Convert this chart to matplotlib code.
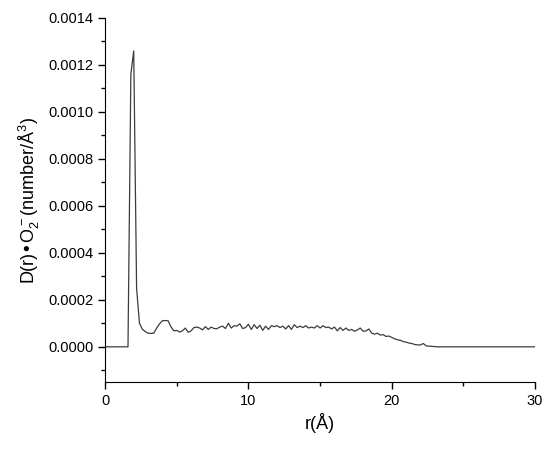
import matplotlib
matplotlib.use("Agg")
import matplotlib.pyplot as plt
from matplotlib.ticker import MultipleLocator, FormatStrFormatter

plt.rcParams['font.family'] = ['Liberation Sans', 'DejaVu Sans']
plt.rcParams['mathtext.default'] = 'regular'

# r values (A)
r = [0.0, 1.6, 1.8, 2.0, 2.2, 2.4, 2.6, 2.8, 3.0, 3.2, 3.4, 3.6, 3.8,
     4.0, 4.2, 4.4, 4.6, 4.8, 5.0, 5.2, 5.4, 5.6, 5.8, 6.0, 6.2, 6.4, 6.6,
     6.8, 7.0, 7.2, 7.4, 7.6, 7.8, 8.0, 8.2, 8.4, 8.6, 8.8, 9.0, 9.2, 9.4,
     9.6, 9.8, 10.0, 10.2, 10.4, 10.6, 10.8, 11.0, 11.2, 11.4, 11.6, 11.8,
     12.0, 12.2, 12.4, 12.6, 12.8, 13.0, 13.2, 13.4, 13.6, 13.8, 14.0, 14.2,
     14.4, 14.6, 14.8, 15.0, 15.2, 15.4, 15.6, 15.8, 16.0, 16.2, 16.4, 16.6,
     16.8, 17.0, 17.2, 17.4, 17.6, 17.8, 18.0, 18.2, 18.4, 18.6, 18.8, 19.0,
     19.2, 19.4, 19.6, 19.8, 20.0, 20.2, 20.4, 20.6, 20.8, 21.0, 21.2, 21.4,
     21.6, 21.8, 22.0, 22.2, 22.4, 22.6, 22.8, 23.0, 23.2, 23.4, 23.6, 30.0]

d = [0.0, 0.0, 0.00116, 0.00126, 0.00025, 0.00010, 0.000075, 0.000065,
     0.000058, 0.000057, 0.000058, 0.000080, 0.000098,
     0.000111, 0.000112, 0.000111, 0.000085, 0.000068, 0.000070, 0.000063,
     0.000068, 0.000080, 0.000062, 0.000068, 0.000082, 0.000084, 0.000080,
     0.000072, 0.000086, 0.000074, 0.000084, 0.000078, 0.000077, 0.000084,
     0.000088, 0.000078, 0.000100, 0.000080, 0.000090, 0.000088, 0.000098,
     0.000078, 0.000082, 0.000096, 0.000074, 0.000094, 0.000078, 0.000092,
     0.000070, 0.000088, 0.000074, 0.000090, 0.000086, 0.000090, 0.000082,
     0.000088, 0.000076, 0.000090, 0.000074, 0.000094, 0.000082, 0.000088,
     0.000082, 0.000090, 0.000080, 0.000084, 0.000080, 0.000090, 0.000080,
     0.000090, 0.000082, 0.000084, 0.000076, 0.000084, 0.000068, 0.000082,
     0.000070, 0.000080, 0.000070, 0.000074, 0.000066, 0.000072, 0.000080,
     0.000066, 0.000068, 0.000076, 0.000058, 0.000054, 0.000058, 0.000050,
     0.000052, 0.000044, 0.000046, 0.000040, 0.000034, 0.000030, 0.000028,
     0.000022, 0.000020, 0.000016, 0.000014, 0.000010, 0.000008, 0.000008,
     0.000014, 0.000004, 0.000003, 0.000002, 0.000001, 0.0, 0.0, 0.0, 0.0]

fig = plt.figure(figsize=(5.5, 4.5), dpi=100)
ax = fig.add_axes([0.191, 0.151, 0.782, 0.809])
ax.plot(r, d, color='#3c3c3c', lw=0.9)

ax.set_xlim(0, 30)
ax.set_ylim(-0.00015, 0.0014)
ax.spines['top'].set_visible(False)
ax.spines['right'].set_visible(False)
ax.xaxis.set_major_locator(MultipleLocator(10))
ax.xaxis.set_minor_locator(MultipleLocator(5))
ax.yaxis.set_major_locator(MultipleLocator(0.0002))
ax.yaxis.set_minor_locator(MultipleLocator(0.0001))
ax.yaxis.set_major_formatter(FormatStrFormatter('%.4f'))
ax.tick_params(which='major', length=5, width=1, labelsize=10.5)
ax.tick_params(which='minor', length=3, width=1)

ax.set_xlabel('r(Å)', fontsize=13)
ax.set_ylabel(r'D(r)•O$_2^-$(number/Å$^3$)', fontsize=13)

fig.savefig('out.png', dpi=100)
